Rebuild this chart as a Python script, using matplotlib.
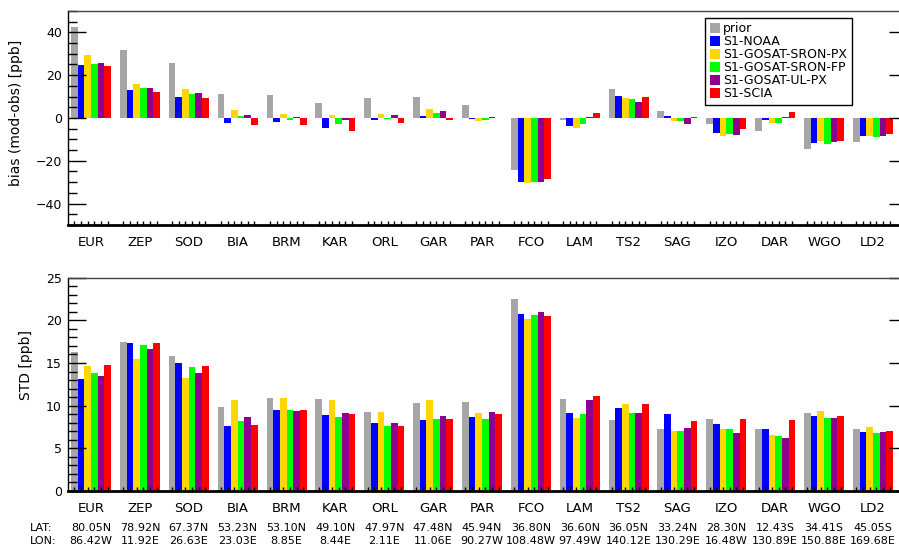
import numpy as np
import matplotlib
matplotlib.use('Agg')
import matplotlib.pyplot as plt
from matplotlib.ticker import MultipleLocator
import matplotlib.transforms as mtransforms

# station info
stations = ['EUR', 'ZEP', 'SOD', 'BIA', 'BRM', 'KAR', 'ORL', 'GAR', 'PAR', 'FCO',
            'LAM', 'TS2', 'SAG', 'IZO', 'DAR', 'WGO', 'LD2']
lat = ['80.05N', '78.92N', '67.37N', '53.23N', '53.10N', '49.10N', '47.97N', '47.48N',
       '45.94N', '36.80N', '36.60N', '36.05N', '33.24N', '28.30N', '12.43S', '34.41S', '45.05S']
lon = ['86.42W', '11.92E', '26.63E', '23.03E', '8.85E', '8.44E', '2.11E', '11.06E',
       '90.27W', '108.48W', '97.49W', '140.12E', '130.29E', '16.48W', '130.89E', '150.88E', '169.68E']

series = ['prior', 'S1-NOAA', 'S1-GOSAT-SRON-PX', 'S1-GOSAT-SRON-FP', 'S1-GOSAT-UL-PX', 'S1-SCIA']
colors = ['#a6a6a6', '#0000ff', '#ffd700', '#00ff00', '#8f008f', '#ff0000']

# bias (mod-obs) [ppb]
bias_prior = [42.7, 31.7, 25.6, 11.1, 10.6, 6.9, 9.2, 9.7, 5.9, -24.1, -1.1, 13.4, 3.1, -3.0, -6.2, -14.7, -11.4]
bias_noaa = [24.7, 13.0, 9.7, -2.5, -2.0, -4.8, -1.1, 0.8, -0.6, -29.7, -3.9, 10.2, 0.8, -7.2, -1.1, -11.9, -8.6]
bias_sron_px = [29.4, 15.8, 13.4, 3.6, 1.7, 1.2, 1.7, 4.1, -1.6, -30.2, -4.8, 9.2, -1.6, -8.6, -2.5, -10.9, -8.6]
bias_sron_fp = [25.2, 13.9, 11.1, 0.8, -1.1, -3.0, -0.6, 2.2, -1.1, -29.7, -3.0, 8.7, -1.6, -7.7, -2.5, -12.3, -9.1]
bias_ul_px = [25.6, 13.9, 11.6, 1.2, 0.3, -1.1, 1.2, 3.1, 0.3, -29.7, 0.3, 7.3, -3.0, -8.1, 0.3, -11.4, -8.6]
bias_scia = [24.2, 12.0, 9.2, -3.4, -3.4, -6.2, -2.5, -1.1, 0.2, -28.7, 2.2, 9.7, 0.3, -5.3, 2.7, -10.9, -7.7]

# STD [ppb]
std_prior = [16.3, 17.5, 15.8, 9.8, 10.9, 10.8, 9.3, 10.3, 10.4, 22.5, 10.8, 8.3, 7.3, 8.4, 7.3, 9.1, 7.3]
std_noaa = [13.1, 17.3, 15.0, 7.6, 9.5, 8.9, 8.0, 8.3, 8.7, 20.7, 9.1, 9.7, 9.0, 7.9, 7.3, 8.8, 6.9]
std_sron_px = [14.6, 15.5, 13.2, 10.7, 10.9, 10.7, 9.3, 10.7, 9.1, 20.2, 8.6, 10.2, 7.0, 7.3, 6.6, 9.4, 7.5]
std_sron_fp = [13.8, 17.1, 14.5, 8.2, 9.5, 8.7, 7.6, 8.4, 8.4, 20.6, 9.0, 9.1, 7.0, 7.3, 6.4, 8.6, 6.8]
std_ul_px = [13.5, 16.6, 13.8, 8.7, 9.4, 9.1, 8.0, 8.8, 9.3, 21.0, 10.7, 9.1, 7.4, 6.8, 6.2, 8.6, 6.9]
std_scia = [14.8, 17.3, 14.6, 7.7, 9.5, 9.0, 7.6, 8.4, 9.0, 20.5, 11.1, 10.2, 8.2, 8.4, 8.3, 8.8, 7.0]

bias_all = [bias_prior, bias_noaa, bias_sron_px, bias_sron_fp, bias_ul_px, bias_scia]
std_all = [std_prior, std_noaa, std_sron_px, std_sron_fp, std_ul_px, std_scia]

fig = plt.figure(figsize=(8.99, 5.47), dpi=100)
ax1 = fig.add_axes([0.0751, 0.5887, 0.9338, 0.3912])
ax2 = fig.add_axes([0.0751, 0.1024, 0.9338, 0.3899])

x = np.arange(len(stations))
w = 0.1364


def draw(ax, data):
    for i, (vals, name, c) in enumerate(zip(data, series, colors)):
        ax.bar(x + (i - 2.5) * w, vals, w, color=c, label=name, linewidth=0)
    ax.set_xlim(-0.481, 16.696)
    ax.set_xticks(x)
    ax.set_xticklabels(stations)
    ax.set_xticks((x[:, None] + (np.arange(6) - 2.5) * w).ravel(), minor=True)
    ax.tick_params(axis='x', which='major', length=0, pad=8, labelsize=9.5)
    ax.tick_params(axis='x', which='minor', direction='in', length=3, width=1, bottom=True, top=False)
    ax.tick_params(axis='y', which='both', direction='in', left=True, labelsize=9, pad=4)
    ax.tick_params(axis='y', which='major', length=13, width=1, right=True)
    ax.tick_params(axis='y', which='minor', length=6.7, width=1, right=False)
    ax.spines['right'].set_visible(False)
    ax.spines['bottom'].set_linewidth(2)
    ax.spines['left'].set_linewidth(1)
    ax.spines['top'].set_linewidth(1)
    ax.spines['top'].set_color('#444444')


draw(ax1, bias_all)
ax1.set_ylim(-50, 50)
ax1.set_yticks([-40, -20, 0, 20, 40])
ax1.yaxis.set_minor_locator(MultipleLocator(5))
ax1.set_ylabel('bias (mod-obs) [ppb]', fontsize=10)
ax1.yaxis.set_label_coords(-0.053, 0.523)
leg = ax1.legend(loc='upper right', bbox_to_anchor=(0.9345, 0.9687), borderaxespad=0,
                 fontsize=9, frameon=True, fancybox=False, framealpha=1, edgecolor='black',
                 handlelength=0.8, handleheight=0.8, handletextpad=0.3, labelspacing=0.0,
                 borderpad=0.38)
leg.get_frame().set_linewidth(1)

draw(ax2, std_all)
ax2.set_ylim(0, 25)
ax2.set_yticks([0, 5, 10, 15, 20, 25])
ax2.yaxis.set_minor_locator(MultipleLocator(1))
ax2.set_ylabel('STD [ppb]', fontsize=10)
ax2.yaxis.set_label_coords(-0.041, 0.59)

# lat / lon rows under the lower panel
trans = mtransforms.blended_transform_factory(ax2.transData, fig.transFigure)
fig.text(30 / 899, 0.0347, 'LAT:', fontsize=8, ha='left', va='center')
fig.text(30 / 899, 0.0101, 'LON:', fontsize=8, ha='left', va='center')
for i in range(len(stations)):
    ax2.text(x[i], 0.0347, lat[i], transform=trans, fontsize=8, ha='center', va='center', clip_on=False)
    ax2.text(x[i], 0.0101, lon[i], transform=trans, fontsize=8, ha='center', va='center', clip_on=False)

fig.savefig('out.png', dpi=100)
